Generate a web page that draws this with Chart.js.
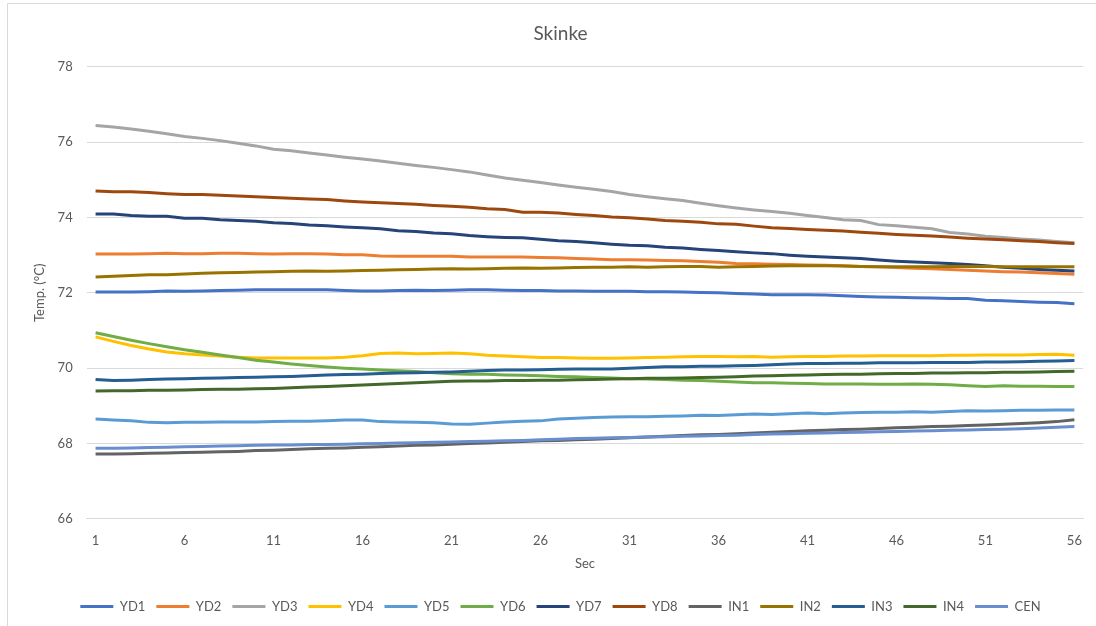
<!DOCTYPE html>
<html lang="da">
<head>
    <meta charset="UTF-8">
    <script src="https://cdn.jsdelivr.net/npm/chart.js"></script>
    <title>Skinke</title>
    <style>
      body { margin: 0; background: #fff; }
      #wrap { width: 1096px; height: 626px; }
    </style>
</head>
<body>
    <div id="wrap">
      <canvas id="myChart" width="1096" height="626"></canvas>
    </div>
    <script>
      // seconds 1..56
      const sec = []
      for (let s = 1; s <= 56; s++) sec.push(s)

      const seriesNames = ['YD1', 'YD2', 'YD3', 'YD4', 'YD5', 'YD6', 'YD7', 'YD8', 'IN1', 'IN2', 'IN3', 'IN4', 'CEN']
      const seriesColors = ['#4472C4', '#ED7D31', '#A5A5A5', '#FFC000', '#5B9BD5', '#70AD47', '#264478', '#9E480E', '#636363', '#997300', '#255E91', '#43682B', '#698ED0']

      const YD1 = [72.02, 72.02, 72.02, 72.03, 72.05, 72.04, 72.05, 72.06, 72.07, 72.08, 72.08, 72.08, 72.08, 72.08, 72.06, 72.05, 72.05, 72.06, 72.07, 72.06, 72.07, 72.08, 72.08, 72.07, 72.06, 72.06, 72.05, 72.05, 72.04, 72.04, 72.04, 72.03, 72.03, 72.02, 72.01, 72.00, 71.98, 71.97, 71.95, 71.95, 71.95, 71.94, 71.92, 71.90, 71.89, 71.88, 71.87, 71.86, 71.85, 71.85, 71.80, 71.79, 71.77, 71.75, 71.74, 71.71]
      const YD2 = [73.03, 73.03, 73.03, 73.04, 73.05, 73.04, 73.04, 73.05, 73.05, 73.04, 73.03, 73.04, 73.04, 73.03, 73.01, 73.01, 72.98, 72.97, 72.97, 72.97, 72.97, 72.95, 72.95, 72.95, 72.95, 72.94, 72.93, 72.91, 72.90, 72.88, 72.88, 72.87, 72.86, 72.85, 72.83, 72.81, 72.78, 72.77, 72.76, 72.75, 72.74, 72.73, 72.72, 72.70, 72.69, 72.67, 72.65, 72.64, 72.62, 72.60, 72.58, 72.56, 72.55, 72.53, 72.51, 72.49]
      const YD3 = [76.44, 76.40, 76.35, 76.29, 76.22, 76.15, 76.10, 76.04, 75.97, 75.90, 75.81, 75.77, 75.71, 75.66, 75.60, 75.55, 75.50, 75.44, 75.38, 75.33, 75.27, 75.21, 75.13, 75.05, 74.99, 74.93, 74.86, 74.80, 74.75, 74.69, 74.61, 74.55, 74.50, 74.45, 74.38, 74.31, 74.25, 74.20, 74.16, 74.11, 74.05, 74.00, 73.94, 73.92, 73.81, 73.78, 73.74, 73.70, 73.60, 73.56, 73.50, 73.47, 73.43, 73.40, 73.36, 73.33]
      const YD4 = [70.83, 70.71, 70.60, 70.51, 70.43, 70.38, 70.35, 70.32, 70.29, 70.27, 70.27, 70.27, 70.27, 70.27, 70.29, 70.33, 70.39, 70.40, 70.38, 70.39, 70.40, 70.38, 70.34, 70.32, 70.30, 70.28, 70.28, 70.27, 70.26, 70.26, 70.27, 70.28, 70.29, 70.30, 70.31, 70.31, 70.30, 70.31, 70.29, 70.30, 70.31, 70.31, 70.32, 70.32, 70.33, 70.33, 70.33, 70.33, 70.34, 70.34, 70.35, 70.35, 70.35, 70.36, 70.37, 70.34]
      const YD5 = [68.65, 68.62, 68.60, 68.56, 68.55, 68.56, 68.56, 68.57, 68.57, 68.57, 68.58, 68.59, 68.59, 68.60, 68.62, 68.62, 68.58, 68.57, 68.56, 68.55, 68.52, 68.51, 68.54, 68.57, 68.59, 68.60, 68.65, 68.67, 68.69, 68.70, 68.71, 68.71, 68.72, 68.73, 68.75, 68.74, 68.76, 68.78, 68.77, 68.79, 68.81, 68.79, 68.81, 68.82, 68.83, 68.83, 68.84, 68.83, 68.85, 68.87, 68.86, 68.87, 68.88, 68.88, 68.89, 68.89]
      const YD6 = [70.94, 70.84, 70.74, 70.65, 70.57, 70.49, 70.42, 70.35, 70.28, 70.21, 70.16, 70.11, 70.07, 70.03, 70.00, 69.98, 69.95, 69.93, 69.91, 69.88, 69.85, 69.84, 69.84, 69.82, 69.81, 69.80, 69.78, 69.77, 69.75, 69.74, 69.72, 69.71, 69.70, 69.68, 69.67, 69.65, 69.63, 69.61, 69.61, 69.60, 69.59, 69.58, 69.58, 69.58, 69.57, 69.57, 69.58, 69.57, 69.56, 69.53, 69.51, 69.53, 69.52, 69.52, 69.51, 69.51]
      const YD7 = [74.09, 74.09, 74.05, 74.03, 74.03, 73.98, 73.98, 73.94, 73.92, 73.90, 73.86, 73.84, 73.80, 73.78, 73.75, 73.73, 73.70, 73.65, 73.63, 73.59, 73.57, 73.52, 73.49, 73.47, 73.46, 73.42, 73.38, 73.36, 73.33, 73.29, 73.26, 73.25, 73.21, 73.19, 73.15, 73.12, 73.09, 73.06, 73.04, 73.00, 72.97, 72.95, 72.93, 72.91, 72.87, 72.84, 72.82, 72.80, 72.78, 72.75, 72.72, 72.68, 72.65, 72.62, 72.60, 72.58]
      const YD8 = [74.70, 74.68, 74.68, 74.66, 74.63, 74.61, 74.61, 74.59, 74.57, 74.55, 74.53, 74.51, 74.49, 74.48, 74.44, 74.41, 74.39, 74.37, 74.35, 74.32, 74.30, 74.27, 74.23, 74.21, 74.14, 74.14, 74.12, 74.08, 74.05, 74.01, 73.99, 73.96, 73.92, 73.90, 73.87, 73.83, 73.82, 73.77, 73.73, 73.71, 73.68, 73.66, 73.64, 73.61, 73.58, 73.55, 73.53, 73.51, 73.48, 73.45, 73.43, 73.41, 73.38, 73.36, 73.33, 73.31]
      const IN1 = [67.72, 67.72, 67.73, 67.74, 67.75, 67.76, 67.77, 67.78, 67.79, 67.81, 67.82, 67.84, 67.86, 67.87, 67.88, 67.90, 67.91, 67.93, 67.95, 67.96, 67.98, 68.00, 68.01, 68.03, 68.05, 68.07, 68.08, 68.10, 68.11, 68.13, 68.15, 68.17, 68.19, 68.21, 68.23, 68.24, 68.26, 68.28, 68.30, 68.32, 68.34, 68.35, 68.37, 68.38, 68.40, 68.42, 68.43, 68.45, 68.46, 68.48, 68.49, 68.51, 68.53, 68.55, 68.58, 68.63]
      const IN2 = [72.42, 72.44, 72.46, 72.48, 72.48, 72.50, 72.52, 72.53, 72.54, 72.55, 72.56, 72.57, 72.58, 72.57, 72.58, 72.59, 72.60, 72.61, 72.62, 72.63, 72.64, 72.63, 72.64, 72.65, 72.66, 72.65, 72.66, 72.67, 72.68, 72.68, 72.69, 72.68, 72.69, 72.70, 72.70, 72.68, 72.69, 72.70, 72.71, 72.72, 72.72, 72.72, 72.71, 72.70, 72.69, 72.69, 72.69, 72.69, 72.70, 72.70, 72.70, 72.69, 72.69, 72.69, 72.69, 72.69]
      const IN3 = [69.70, 69.67, 69.68, 69.70, 69.71, 69.72, 69.73, 69.74, 69.75, 69.76, 69.77, 69.78, 69.80, 69.82, 69.83, 69.84, 69.86, 69.87, 69.88, 69.89, 69.90, 69.92, 69.94, 69.95, 69.95, 69.96, 69.97, 69.98, 69.98, 69.98, 70.00, 70.02, 70.04, 70.04, 70.05, 70.05, 70.06, 70.07, 70.09, 70.11, 70.12, 70.12, 70.13, 70.13, 70.14, 70.14, 70.14, 70.15, 70.15, 70.15, 70.16, 70.16, 70.17, 70.18, 70.19, 70.20]
      const IN4 = [69.39, 69.40, 69.40, 69.41, 69.41, 69.42, 69.43, 69.44, 69.44, 69.45, 69.46, 69.48, 69.50, 69.51, 69.53, 69.55, 69.57, 69.59, 69.61, 69.63, 69.65, 69.66, 69.66, 69.67, 69.67, 69.68, 69.68, 69.69, 69.70, 69.71, 69.72, 69.73, 69.73, 69.74, 69.75, 69.76, 69.77, 69.79, 69.80, 69.81, 69.82, 69.83, 69.84, 69.84, 69.85, 69.86, 69.86, 69.87, 69.87, 69.88, 69.88, 69.89, 69.89, 69.90, 69.91, 69.92]
      const CEN = [67.87, 67.87, 67.88, 67.89, 67.90, 67.91, 67.92, 67.93, 67.94, 67.95, 67.96, 67.96, 67.97, 67.97, 67.98, 67.99, 68.00, 68.01, 68.02, 68.03, 68.04, 68.05, 68.06, 68.07, 68.08, 68.10, 68.11, 68.13, 68.14, 68.15, 68.16, 68.17, 68.18, 68.19, 68.20, 68.21, 68.22, 68.24, 68.25, 68.26, 68.27, 68.28, 68.29, 68.30, 68.31, 68.32, 68.33, 68.34, 68.35, 68.36, 68.37, 68.38, 68.39, 68.41, 68.43, 68.45]

      const seriesValues = [YD1, YD2, YD3, YD4, YD5, YD6, YD7, YD8, IN1, IN2, IN3, IN4, CEN]

      const txt = '#595959'
      const grid = '#d9d9d9'
      Chart.defaults.font.family = 'Lato, "Open Sans", sans-serif'
      Chart.defaults.color = txt

      // light frame around the chart, like the excel chart box
      const frame = {
        id: 'frame',
        beforeDraw(chart) {
          const c = chart.ctx
          c.save()
          c.fillStyle = '#fff'
          c.fillRect(0, 0, chart.width, chart.height)
          c.strokeStyle = grid
          c.lineWidth = 1
          c.beginPath()
          c.moveTo(7.5, chart.height)
          c.lineTo(7.5, 3.5)
          c.lineTo(chart.width, 3.5)
          c.stroke()
          c.restore()
        }
      }

      const datasets = seriesNames.map((name, i) => ({
        label: name,
        data: seriesValues[i],
        borderColor: seriesColors[i],
        backgroundColor: seriesColors[i],
        borderWidth: 3,
        pointRadius: 0,
        tension: 0,
        order: -i
      }))

      new Chart(document.getElementById('myChart'), {
        type: 'line',
        data: { labels: sec, datasets: datasets },
        options: {
          responsive: false,
          animation: false,
          layout: { padding: { left: 32, right: 7, top: 0, bottom: 3 } },
          plugins: {
            title: {
              display: true,
              text: 'Skinke',
              color: txt,
              font: { size: 19, weight: 'normal' },
              padding: { top: 22, bottom: 22 }
            },
            legend: {
              position: 'bottom',
              labels: {
                usePointStyle: true,
                pointStyle: 'line',
                pointStyleWidth: 33,
                color: txt,
                font: { size: 13 },
                padding: 11,
                sort: (a, b) => a.datasetIndex - b.datasetIndex
              }
            },
            tooltip: { enabled: false }
          },
          scales: {
            x: {
              offset: true,
              grid: { display: false, drawTicks: false },
              border: { display: true, color: grid },
              ticks: {
                autoSkip: false,
                maxRotation: 0,
                padding: 14,
                font: { size: 13 },
                callback: function (val, idx) {
                  return idx % 5 === 0 ? this.getLabelForValue(val) : ''
                }
              },
              title: { display: true, text: 'Sec', font: { size: 13 }, padding: { top: -6, bottom: 17 } }
            },
            y: {
              min: 66,
              max: 78,
              grid: { color: grid, drawTicks: false },
              border: { display: false },
              ticks: { stepSize: 2, padding: 14, font: { size: 13 } },
              title: { display: true, text: 'Temp. (°C)', font: { size: 13 }, padding: { top: 0, bottom: -4 } }
            }
          }
        },
        plugins: [frame]
      })
    </script>
</body>
</html>
